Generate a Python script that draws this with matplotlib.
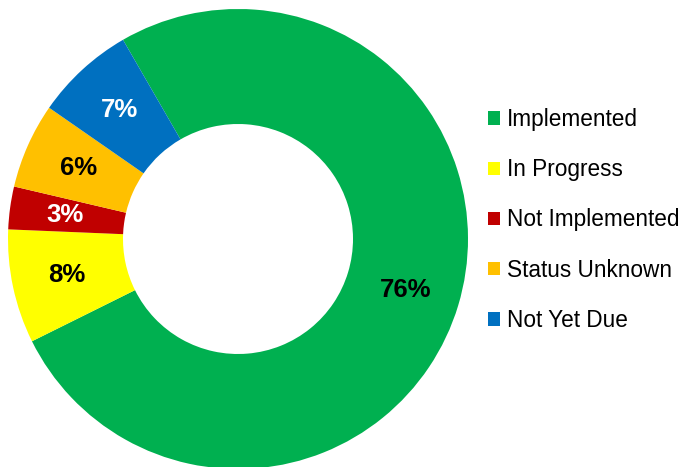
"""Donut chart of recommendation status."""
import matplotlib
matplotlib.use('Agg')
from matplotlib import pyplot as plt
from matplotlib.patches import Patch

plt.rcParams['font.family'] = ['Liberation Sans', 'DejaVu Sans']

# Data.
categories = ['Implemented', 'In Progress', 'Not Implemented', 'Status Unknown', 'Not Yet Due']
shares = [76, 8, 3, 6, 7]
colors = ['#00B050', '#FFFF00', '#C00000', '#FFC000', '#0070C0']
label_colors = ['black', 'black', 'white', 'black', 'white']

fig = plt.figure(figsize=(6.81, 4.67), dpi=100)
# Place the donut so it sits at the left like the reference.
ax = fig.add_axes([8 / 681, -2 / 467, 460 / 681, 460 / 467])

wedges, texts, autotexts = ax.pie(shares, colors=colors, startangle=120,
                                  counterclock=False, radius=1.0,
                                  autopct='%1.0f%%', pctdistance=0.76,
                                  wedgeprops=dict(width=0.5, linewidth=0))
for t, c in zip(autotexts, label_colors):
    t.set_color(c)
    t.set_fontsize(18.5)
    t.set_fontweight('bold')

ax.set_xlim(-1, 1)
ax.set_ylim(-1, 1)
ax.set_aspect('equal')
ax.axis('off')

handles = [Patch(facecolor=c, edgecolor='none') for c in colors]
fig.legend(handles, categories, loc='center left', bbox_to_anchor=(488 / 681, 1 - 220 / 467),
           frameon=False, fontsize=16.3, handlelength=0.55, handleheight=0.55,
           handletextpad=0.28, labelspacing=1.2, borderaxespad=0, borderpad=0)

fig.savefig('out.png', dpi=100)
